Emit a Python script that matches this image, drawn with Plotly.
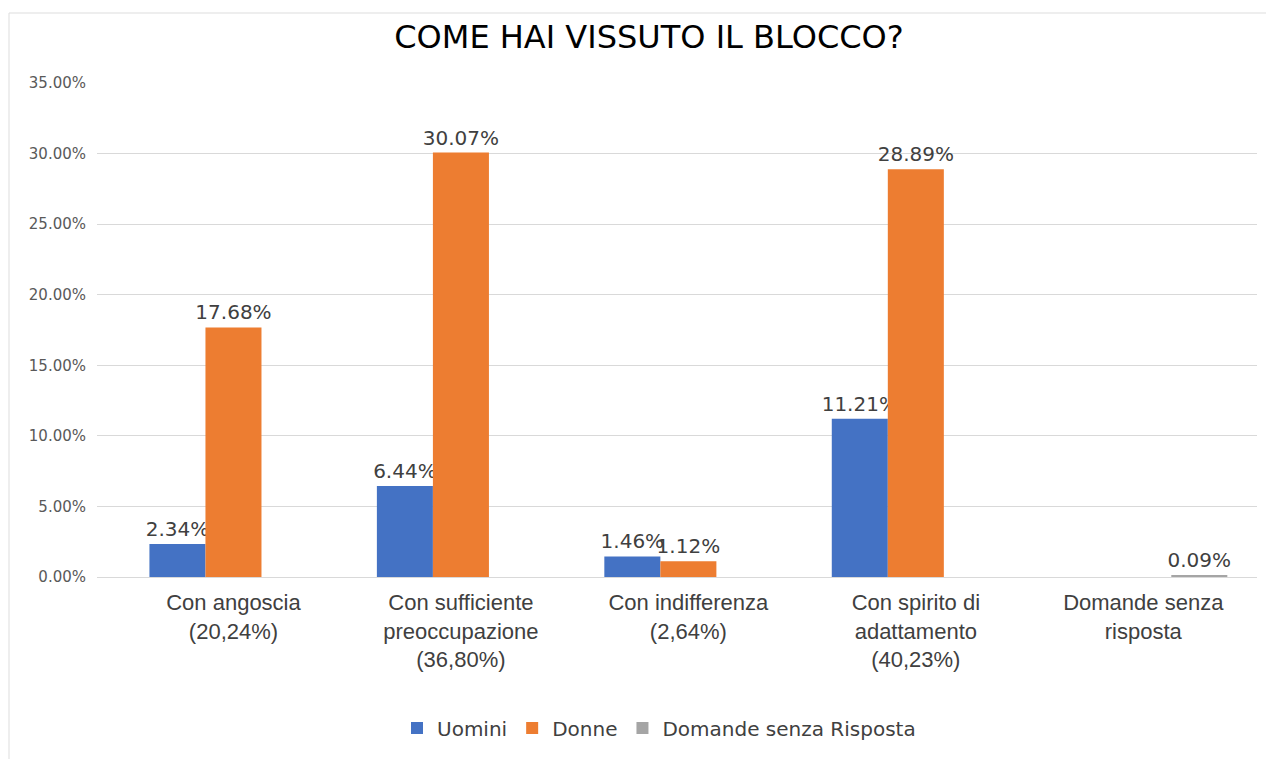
import plotly.graph_objects as go

categories = ["Con angoscia<br>(20,24%)",
              "Con sufficiente<br>preoccupazione<br>(36,80%)",
              "Con indifferenza<br>(2,64%)",
              "Con spirito di<br>adattamento<br>(40,23%)",
              "Domande senza<br>risposta"]
uomini = [2.34, 6.44, 1.46, 11.21, None]
donne = [17.68, 30.07, 1.12, 28.89, None]
senza_risposta = [None, None, None, None, 0.09]
y_ticks = [0, 5, 10, 15, 20, 25, 30, 35]

series = [("Uomini", uomini, "#4472C4"),
          ("Donne", donne, "#ED7D31"),
          ("Domande senza Risposta", senza_risposta, "#A5A5A5")]

# page body adds ~8px offset, so margins are shifted up/left by 8
W, H = 1274, 759
L, R, T, B = 89, 25, 75, 190
pw, ph = W - L - R, H - T - B

fig = go.Figure()
for name, vals, color in series:
    fig.add_trace(go.Bar(
        x=list(range(len(categories))),
        y=vals,
        name=name,
        marker_color=color,
        marker_line_width=0,
        text=[f"{v:.2f}%" if v is not None else "" for v in vals],
        textposition="outside",
        textfont=dict(family="DejaVu Sans", size=20, color="#404040"),
        constraintext="none",
        cliponaxis=False,
    ))

fig.update_layout(
    width=W, height=H,
    paper_bgcolor="white", plot_bgcolor="white",
    font=dict(family="Liberation Sans, Arial, sans-serif"),
    title=dict(text="COME HAI VISSUTO IL BLOCCO?",
               x=(649 - 8) / W, xanchor="center", y=1 - 29 / H, yanchor="middle",
               font=dict(family="DejaVu Sans", size=32, color="black")),
    margin=dict(l=L, r=R, t=T, b=B),
    barmode="group", bargap=0.261, bargroupgap=0,
    legend=dict(orientation="h", x=(659 - 8 - L) / pw, xanchor="center",
                y=-(720 - T - ph) / ph, yanchor="middle",
                font=dict(family="DejaVu Sans", size=20, color="#404040"),
                itemwidth=30, tracegroupgap=0),
    showlegend=True,
)
fig.update_xaxes(
    tickmode="array", tickvals=list(range(len(categories))), ticktext=categories,
    range=[-0.6, 4.5], showgrid=False, showline=False, zeroline=False,
    ticks="", ticklabelstandoff=10,
    tickfont=dict(size=22, color="#404040"),
)
fig.update_yaxes(
    range=[0, 35], tickvals=y_ticks,
    ticktext=[f"{t:.2f}%" for t in y_ticks],
    showgrid=True, gridcolor="#D9D9D9", gridwidth=1,
    zeroline=True, zerolinecolor="#D9D9D9", zerolinewidth=1,
    showline=False, ticks="", ticklabelstandoff=10,
    tickfont=dict(family="DejaVu Sans", size=15, color="#595959"),
)
# faint chart border
fig.add_shape(type="rect", xref="paper", yref="paper",
              x0=(1 - L) / pw, x1=(1262 - L) / pw,
              y0=-(H + 20 - T - ph) / ph, y1=(T + ph - 5) / ph,
              line=dict(color="#DDDDDD", width=1), layer="below")

fig.write_html("out.html")
